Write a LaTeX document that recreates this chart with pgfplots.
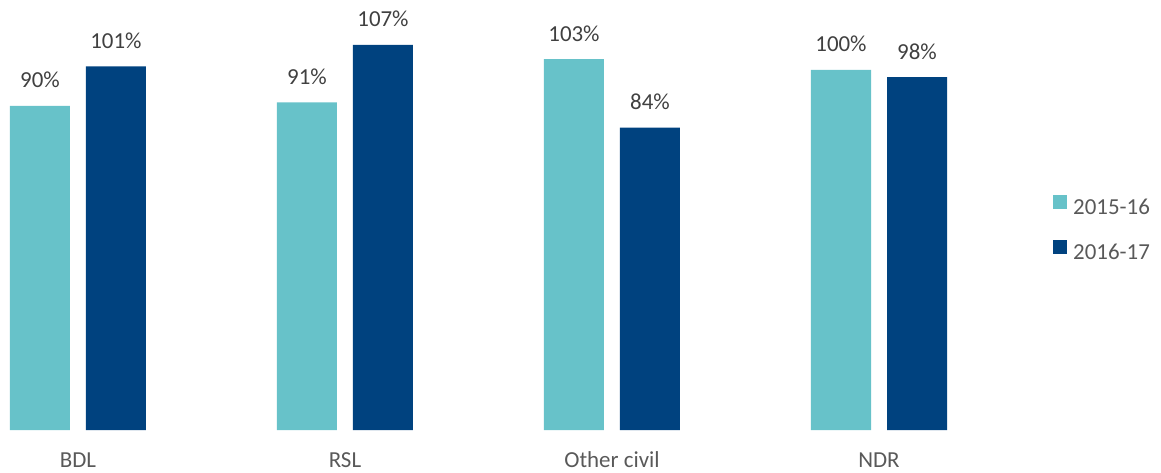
\documentclass[border=0pt]{standalone}
\usepackage{pgfplots}
\pgfplotsset{compat=1.18}
\usepackage{fontspec}
\setmainfont{Carlito}
\definecolor{cA}{HTML}{67C2C9}
\definecolor{cB}{HTML}{00427F}
\definecolor{lbl}{HTML}{404040}
\definecolor{tck}{HTML}{595959}
\begin{document}
\begin{tikzpicture}
\useasboundingbox (0,0) rectangle (1161bp,473bp);
\begin{axis}[
  at={(0bp,43bp)}, anchor=south west,
  x=267bp, y=3.6bp,
  xmin=-0.2921, xmax=3.29, ymin=0, ymax=119,
  clip=false,
  axis line style={draw=none},
  major tick length=0pt,
  ymajorticks=false,
  xtick={0,1,2,3},
  xticklabels={BDL,RSL,Other civil,NDR},
  xticklabel style={anchor=base, yshift=-37bp, font=\fontsize{23}{27}\selectfont, text=tck, inner sep=0pt},
  ybar, bar width=60bp,
  nodes near coords={\pgfmathprintnumber[assume math mode=true]{\pgfplotspointmeta}\%},
  every node near coord/.append style={anchor=base, inner sep=0pt, yshift=18bp, color=lbl, font=\fontsize{23}{27}\selectfont},
  legend image code/.code={\fill[#1] (0bp,0bp) rectangle (14bp,14bp);},
  legend cell align=left,
  legend style={at={(axis description cs:1.1010,0.5497)}, anchor=north west, draw=none, fill=none, inner sep=0pt,
    font=\fontsize{23}{27}\selectfont, text=tck,
    nodes={inner sep=0pt, text height=16bp, text depth=5bp},
    column sep=6bp, row sep=21bp},
]
\addplot[fill=cA, draw=none, bar shift=-38bp] coordinates {(0,90) (1,91) (2,103) (3,100)};
\addplot[fill=cB, draw=none, bar shift=38bp] coordinates {(0,101) (1,107) (2,84) (3,98)};
\legend{2015-16,2016-17}
\end{axis}
\end{tikzpicture}
\end{document}
